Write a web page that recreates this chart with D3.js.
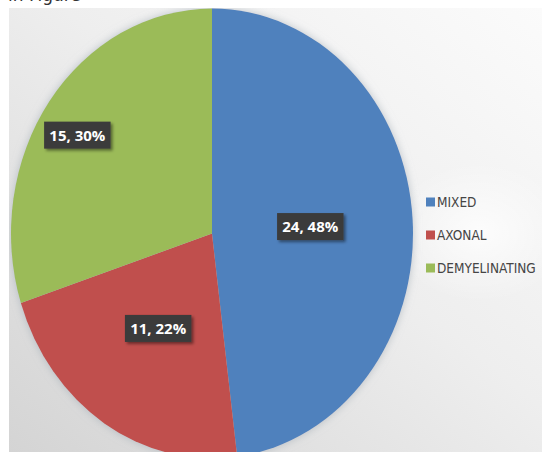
<!DOCTYPE html>
<html>
<head>
<meta charset="utf-8">
<script src="https://cdn.jsdelivr.net/npm/d3@7"></script>
<style>
  html, body { margin: 0; padding: 0; background: #ffffff; }
  svg { display: block; }
</style>
</head>
<body>
<svg id="chart" width="542" height="453"></svg>
<script>
// Nerve conduction pattern counts
const categories = ["MIXED", "AXONAL", "DEMYELINATING"];
const counts = [24, 11, 15];
const percents = [48, 22, 30];
const colors = ["#4f81bd", "#c0504d", "#9bbb59"];

const W = 542, H = 453;
const svg = d3.select("#chart");
const defs = svg.append("defs");

// plot area background: soft grey sheen, lighter towards top-right
const bg = defs.append("linearGradient").attr("id", "bgGrad")
  .attr("x1", "100%").attr("y1", "0%").attr("x2", "0%").attr("y2", "100%");
bg.append("stop").attr("offset", "0%").attr("stop-color", "#fbfbfb");
bg.append("stop").attr("offset", "45%").attr("stop-color", "#eeeeee");
bg.append("stop").attr("offset", "100%").attr("stop-color", "#d4d4d4");

const glow = defs.append("radialGradient").attr("id", "glowGrad")
  .attr("cx", "50%").attr("cy", "50%").attr("r", "50%");
glow.append("stop").attr("offset", "0%").attr("stop-color", "#ffffff").attr("stop-opacity", 0.8);
glow.append("stop").attr("offset", "100%").attr("stop-color", "#ffffff").attr("stop-opacity", 0);

const pieShadow = defs.append("filter").attr("id", "pieShadow")
  .attr("x", "-10%").attr("y", "-10%").attr("width", "120%").attr("height", "120%");
pieShadow.append("feDropShadow").attr("dx", 0).attr("dy", 0).attr("stdDeviation", 4)
  .attr("flood-color", "#9aa4ae").attr("flood-opacity", 0.6);

const boxShadow = defs.append("filter").attr("id", "boxShadow")
  .attr("x", "-30%").attr("y", "-40%").attr("width", "160%").attr("height", "180%");
boxShadow.append("feDropShadow").attr("dx", 2).attr("dy", 2).attr("stdDeviation", 1.5)
  .attr("flood-color", "#000").attr("flood-opacity", 0.45);

const area = { x: 9, y: 8, w: W - 9, h: 444 };
defs.append("clipPath").attr("id", "areaClip")
  .append("rect").attr("x", area.x).attr("y", area.y).attr("width", area.w).attr("height", area.h);

// caption line running above the chart, mostly cut off by the frame top
svg.append("text").attr("x", 8).attr("y", 0.5)
  .attr("font-family", "DejaVu Sans, sans-serif").attr("font-size", 17)
  .attr("fill", "#333").text("in Figure");

svg.append("rect").attr("x", area.x).attr("y", area.y)
  .attr("width", area.w).attr("height", area.h).attr("fill", "url(#bgGrad)");
svg.append("ellipse").attr("cx", 480).attr("cy", 232).attr("rx", 90).attr("ry", 70)
  .attr("fill", "url(#glowGrad)");

const plot = svg.append("g").attr("clip-path", "url(#areaClip)");

// pie is drawn as a circle and stretched vertically into the ellipse
const cx = 212, cy = 233.5, R = 201, stretch = 1.119;
const pie = d3.pie().sort(null).value(d => d.value);
const data = categories.map((c, i) => ({ name: c, value: counts[i], pct: percents[i], color: colors[i] }));
const arcs = pie(data);
const arc = d3.arc().innerRadius(0).outerRadius(R);

const pieG = plot.append("g")
  .attr("transform", `translate(${cx},${cy}) scale(1,${stretch})`)
  .attr("filter", "url(#pieShadow)");
pieG.selectAll("path").data(arcs).join("path")
  .attr("d", arc)
  .attr("fill", d => d.data.color)
  .attr("stroke", "none");

// data labels placed along each slice's mid-angle
const labelRadius = [0.49, 0.5, 0.8];
const labelAngleShift = [0, 0, -0.05];
const labelG = plot.append("g");
arcs.forEach((a, i) => {
  const ang = (a.startAngle + a.endAngle) / 2 + labelAngleShift[i];
  const r = R * labelRadius[i];
  const lx = cx + r * Math.sin(ang);
  const ly = cy - r * Math.cos(ang) * stretch;
  const g = labelG.append("g").attr("transform", `translate(${lx},${ly})`);
  const rect = g.append("rect").attr("fill", "#3b3b3b").attr("filter", "url(#boxShadow)");
  const t = g.append("text")
    .attr("text-anchor", "middle").attr("dy", "0.36em")
    .attr("font-family", "Open Sans, sans-serif").attr("font-weight", "bold")
    .attr("font-size", 15).attr("fill", "#ffffff")
    .text(`${a.data.value}, ${a.data.pct}%`);
  const bb = t.node().getBBox();
  const bw = bb.width + 10, bh = 27;
  rect.attr("x", -bw / 2).attr("y", -bh / 2).attr("width", bw).attr("height", bh);
});

// legend
const legendY = d3.scalePoint().domain(categories).range([202, 268]);
const legend = plot.append("g");
categories.forEach((c, i) => {
  const y = legendY(c);
  legend.append("rect").attr("x", 426).attr("y", y - 4.5).attr("width", 9).attr("height", 9)
    .attr("fill", colors[i]);
  legend.append("text").attr("x", 437).attr("y", y).attr("dy", "0.36em")
    .attr("font-family", "DejaVu Sans Condensed, DejaVu Sans, sans-serif")
    .attr("font-stretch", "condensed").attr("font-size", 13.5)
    .attr("fill", "#454545").text(c);
});
</script>
</body>
</html>
